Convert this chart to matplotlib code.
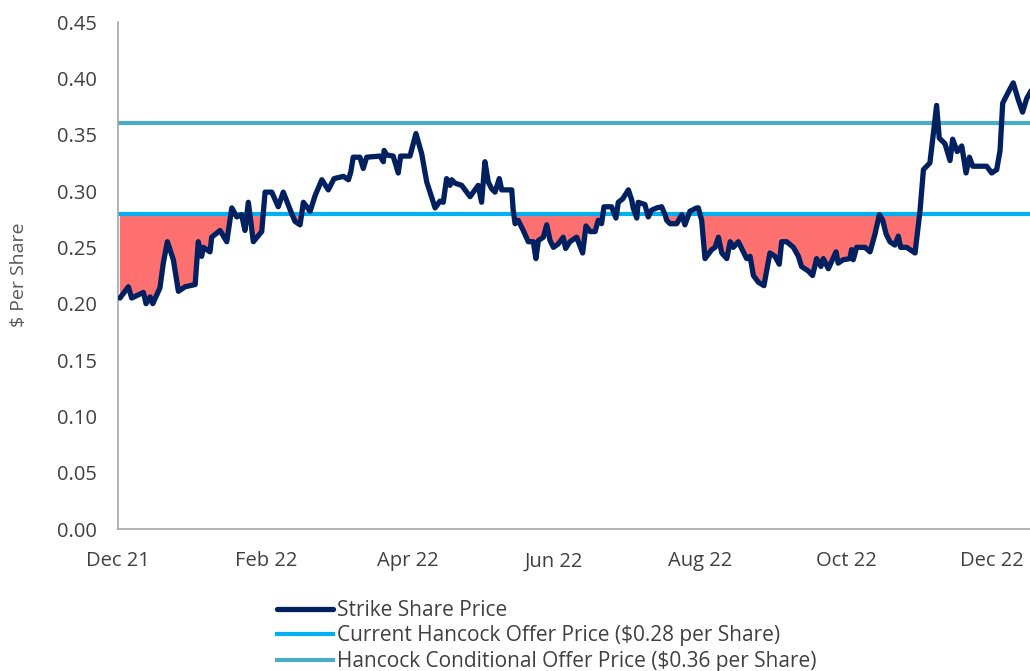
import matplotlib.pyplot as plt
import matplotlib.dates as mdates
import numpy as np
import pandas as pd

plt.rcParams["font.family"] = ["Open Sans", "DejaVu Sans"]

# days after 1 Dec 2021
days = [0.8, 4.3, 5.7, 10.6, 11.7, 13.4, 14.5, 17.5, 18.9, 20.6,
        23.1, 25.2, 28.0, 32.2, 33.5, 34.9, 35.6, 38.4, 39.1, 42.6,
        45.4, 47.5, 49.6, 51.6, 53.0, 54.4, 56.5, 60.0, 61.4, 64.2,
        66.9, 69.0, 72.5, 73.9, 76.0, 77.4, 80.2, 82.3, 85.1, 87.8,
        90.2, 94.1, 96.2, 97.2, 98.2, 101.0, 102.4, 103.8, 109.4, 110.8,
        111.1, 112.2, 114.9, 117.0, 118.0, 121.9, 124.4, 126.8, 128.9, 132.4,
        134.4, 135.8, 137.2, 138.6, 139.3, 140.7, 143.5, 147.0, 150.4, 151.8,
        153.2, 154.6, 156.0, 157.4, 159.2, 160.2, 164.4, 165.0, 165.8, 167.1,
        169.2, 171.3, 173.4, 174.5, 175.5, 177.6, 179.0, 180.4, 181.8, 183.8,
        185.9, 186.9, 188.7, 191.5, 194.0, 195.4, 197.1, 199.2, 200.5, 201.9,
        202.9, 206.1, 207.9, 208.9, 210.7, 213.1, 214.5, 215.1, 216.6, 217.2,
        220.0, 221.4, 222.8, 224.9, 227.0, 228.4, 229.1, 230.5, 233.3, 235.4,
        236.7, 238.8, 241.6, 242.3, 243.7, 245.1, 247.9, 249.3, 250.7, 252.1,
        254.2, 255.6, 256.9, 259.0, 261.1, 262.5, 263.9, 265.3, 267.4, 269.7,
        272.2, 274.3, 276.1, 277.1, 279.2, 282.0, 284.1, 285.4, 288.2, 290.0,
        291.7, 293.5, 294.5, 296.6, 299.8, 300.7, 302.8, 305.6, 306.3, 307.0,
        308.4, 311.9, 314.0, 316.1, 317.9, 319.3, 320.7, 322.3, 324.4, 325.8,
        326.8, 329.3, 332.8, 334.9, 336.3, 339.0, 340.4, 341.8, 342.9, 345.3,
        347.4, 348.5, 350.4, 352.3, 354.1, 355.5, 356.9, 362.7, 364.8, 366.9,
        368.3, 369.4, 371.8, 373.8, 375.9, 377.7, 379.4, 381.5]
price = [0.205, 0.215, 0.205, 0.210, 0.200, 0.206, 0.200, 0.214, 0.236, 0.255,
         0.239, 0.211, 0.215, 0.217, 0.255, 0.242, 0.250, 0.246, 0.259, 0.265,
         0.255, 0.285, 0.277, 0.279, 0.265, 0.290, 0.255, 0.264, 0.299, 0.299,
         0.286, 0.299, 0.280, 0.273, 0.270, 0.290, 0.282, 0.296, 0.310, 0.301,
         0.311, 0.313, 0.310, 0.317, 0.330, 0.330, 0.320, 0.330, 0.331, 0.326,
         0.336, 0.332, 0.331, 0.316, 0.331, 0.331, 0.351, 0.333, 0.308, 0.285,
         0.291, 0.290, 0.311, 0.305, 0.310, 0.307, 0.305, 0.295, 0.305, 0.290,
         0.326, 0.308, 0.302, 0.299, 0.311, 0.301, 0.301, 0.283, 0.271, 0.274,
         0.265, 0.255, 0.255, 0.240, 0.256, 0.259, 0.270, 0.256, 0.250, 0.253,
         0.259, 0.249, 0.255, 0.259, 0.245, 0.269, 0.264, 0.264, 0.274, 0.271,
         0.286, 0.286, 0.276, 0.290, 0.293, 0.301, 0.292, 0.285, 0.276, 0.290,
         0.288, 0.277, 0.283, 0.285, 0.286, 0.279, 0.274, 0.271, 0.271, 0.279,
         0.270, 0.282, 0.285, 0.285, 0.274, 0.240, 0.248, 0.250, 0.259, 0.245,
         0.240, 0.255, 0.250, 0.255, 0.246, 0.240, 0.242, 0.225, 0.219, 0.216,
         0.245, 0.242, 0.235, 0.255, 0.255, 0.250, 0.242, 0.233, 0.229, 0.225,
         0.240, 0.233, 0.240, 0.231, 0.246, 0.236, 0.239, 0.240, 0.248, 0.239,
         0.250, 0.250, 0.246, 0.262, 0.279, 0.274, 0.262, 0.255, 0.252, 0.260,
         0.250, 0.250, 0.245, 0.283, 0.319, 0.325, 0.350, 0.376, 0.347, 0.342,
         0.327, 0.346, 0.335, 0.340, 0.316, 0.330, 0.322, 0.322, 0.316, 0.319,
         0.336, 0.378, 0.388, 0.396, 0.381, 0.370, 0.382, 0.390]
current_offer = 0.28
conditional_offer = 0.36

labels = ["Strike Share Price",
          "Current Hancock Offer Price ($0.28 per Share)",
          "Hancock Conditional Offer Price ($0.36 per Share)"]

start = pd.Timestamp("2021-12-01")
dates = start + pd.to_timedelta(days, unit="D")
price = np.array(price)

fig = plt.figure(figsize=(10.3, 6.71), dpi=100)
ax = fig.add_axes([0.1146, 0.2116, 0.8854, 0.7556])

ax.fill_between(dates, price, current_offer, where=price < current_offer,
                interpolate=True, color="#FF7171", linewidth=0, zorder=1)
l2 = ax.axhline(current_offer, color="#00B0F0", lw=3, zorder=2)
l3 = ax.axhline(conditional_offer, color="#4BACC6", lw=3, zorder=2)
l1, = ax.plot(dates, price, color="#002060", lw=3.8, zorder=3,
              solid_joinstyle="round", solid_capstyle="round")

ax.set_ylim(0, 0.45)
ax.set_yticks(np.arange(0, 0.451, 0.05))
ax.yaxis.set_major_formatter(plt.FuncFormatter(lambda v, p: f"{v:.2f}"))
ax.set_xlim(start, start + pd.Timedelta(days=380.8))
ax.xaxis.set_major_locator(mdates.MonthLocator(bymonth=[12, 2, 4, 6, 8, 10]))
ax.xaxis.set_major_formatter(mdates.DateFormatter("%b %y"))

for s in ["top", "right"]:
    ax.spines[s].set_visible(False)
for s in ["left", "bottom"]:
    ax.spines[s].set_color("#A6A6A6")
    ax.spines[s].set_linewidth(1.2)
ax.tick_params(length=0, labelsize=14.5, colors="#404040")
ax.tick_params(axis="x", pad=16)
ax.tick_params(axis="y", pad=15)

fig.text(0.018, 0.59, "$ Per Share", rotation=90, ha="center", va="center",
         fontsize=14, color="#595959")

fig.legend([l1, l2, l3], labels, loc="upper left",
           bbox_to_anchor=(0.269, 0.106), frameon=False, fontsize=15,
           handlelength=2.7, handletextpad=0.2, labelspacing=0.22,
           labelcolor="#404040", borderaxespad=0, borderpad=0)

fig.savefig("out.png", dpi=100)
